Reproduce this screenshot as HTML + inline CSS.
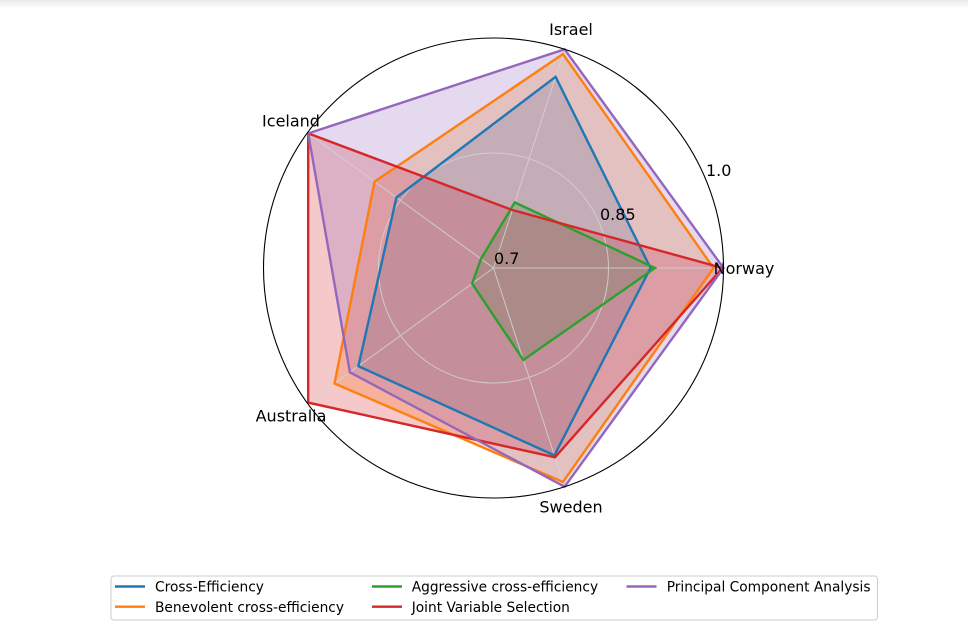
<!DOCTYPE html>
<html>
<head>
<meta charset="utf-8">
<style>
  html, body { margin: 0; padding: 0; background: #ffffff; }
  body { width: 968px; height: 631px; overflow: hidden; }
  svg { display: block; }
  text { font-family: "DejaVu Sans", "Liberation Sans", sans-serif; fill: #000; }
</style>
</head>
<body>
<svg width="968" height="631" viewBox="0 0 968 631" xmlns="http://www.w3.org/2000/svg">
  <defs>
    <linearGradient id="topfade" x1="0" y1="0" x2="0" y2="1">
      <stop offset="0" stop-color="#e9e9e9"/>
      <stop offset="1" stop-color="#ffffff"/>
    </linearGradient>
  </defs>
  <rect x="0" y="0" width="968" height="631" fill="#ffffff"/>
  <rect x="0" y="0" width="968" height="8" fill="url(#topfade)"/>

  <!-- fills -->
  <g stroke="none">
    <polygon fill="#1f77b4" fill-opacity="0.25" points="650.5,268 555.6,76.8 396.4,197.5 358.4,366.2 554.4,455.4"/>
    <polygon fill="#ff7f0e" fill-opacity="0.25" points="713.5,268 563.0,54.0 374.6,181.6 334.5,383.5 563.0,482.0"/>
    <polygon fill="#2ca02c" fill-opacity="0.25" points="655,268 514.8,202.4 481.0,258.9 472.1,283.6 523.4,360.0"/>
    <polygon fill="#d62728" fill-opacity="0.25" points="722.5,268 512.4,210.0 308.2,133.4 308.2,402.6 555.0,457.3"/>
    <polygon fill="#9467bd" fill-opacity="0.25" points="723.5,268 564.6,49.3 308.2,133.4 349.9,372.3 564.6,486.7"/>
  </g>

  <!-- grid -->
  <g stroke="#d4d4d4" stroke-width="1" fill="none" opacity="0.85">
    <circle cx="493.5" cy="268" r="115"/>
    <line x1="493.5" y1="268" x2="723.5" y2="268"/>
    <line x1="493.5" y1="268" x2="564.6" y2="49.3"/>
    <line x1="493.5" y1="268" x2="307.4" y2="132.8"/>
    <line x1="493.5" y1="268" x2="307.4" y2="403.2"/>
    <line x1="493.5" y1="268" x2="564.6" y2="486.7"/>
  </g>

  <!-- lines -->
  <g fill="none" stroke-width="2.4" stroke-linejoin="miter">
    <polygon stroke="#1f77b4" points="650.5,268 555.6,76.8 396.4,197.5 358.4,366.2 554.4,455.4"/>
    <polygon stroke="#ff7f0e" points="713.5,268 563.0,54.0 374.6,181.6 334.5,383.5 563.0,482.0"/>
    <polygon stroke="#2ca02c" points="655,268 514.8,202.4 481.0,258.9 472.1,283.6 523.4,360.0"/>
    <polygon stroke="#d62728" points="722.5,268 512.4,210.0 308.2,133.4 308.2,402.6 555.0,457.3"/>
    <polygon stroke="#9467bd" points="723.5,268 564.6,49.3 308.2,133.4 349.9,372.3 564.6,486.7"/>
  </g>

  <!-- outer frame -->
  <circle cx="493.5" cy="268" r="230" fill="none" stroke="#000" stroke-width="1.1"/>

  <!-- radial tick labels -->
  <g font-size="16">
    <text x="494" y="264">0.7</text>
    <text x="600" y="220">0.85</text>
    <text x="706" y="176">1.0</text>
  </g>

  <!-- theta labels -->
  <g font-size="16" text-anchor="middle">
    <text x="744" y="274">Norway</text>
    <text x="571" y="35">Israel</text>
    <text x="291" y="126.5">Iceland</text>
    <text x="291" y="421.5">Australia</text>
    <text x="571" y="512.5">Sweden</text>
  </g>

  <!-- legend -->
  <rect x="111" y="576" width="766.5" height="44" rx="3" ry="3" fill="#ffffff" fill-opacity="0.8" stroke="#cccccc" stroke-width="1"/>
  <g stroke-width="2.4">
    <line x1="115" y1="586.5" x2="145" y2="586.5" stroke="#1f77b4"/>
    <line x1="115" y1="606.7" x2="145" y2="606.7" stroke="#ff7f0e"/>
    <line x1="372" y1="586.5" x2="402" y2="586.5" stroke="#2ca02c"/>
    <line x1="372" y1="606.7" x2="402" y2="606.7" stroke="#d62728"/>
    <line x1="626.5" y1="586.5" x2="656.5" y2="586.5" stroke="#9467bd"/>
  </g>
  <g font-size="13.75">
    <text x="155" y="591.7">Cross-Efficiency</text>
    <text x="155" y="611.9">Benevolent cross-efficiency</text>
    <text x="411.7" y="591.7">Aggressive cross-efficiency</text>
    <text x="411.7" y="611.9">Joint Variable Selection</text>
    <text x="666.7" y="591.7">Principal Component Analysis</text>
  </g>
</svg>
</body>
</html>
